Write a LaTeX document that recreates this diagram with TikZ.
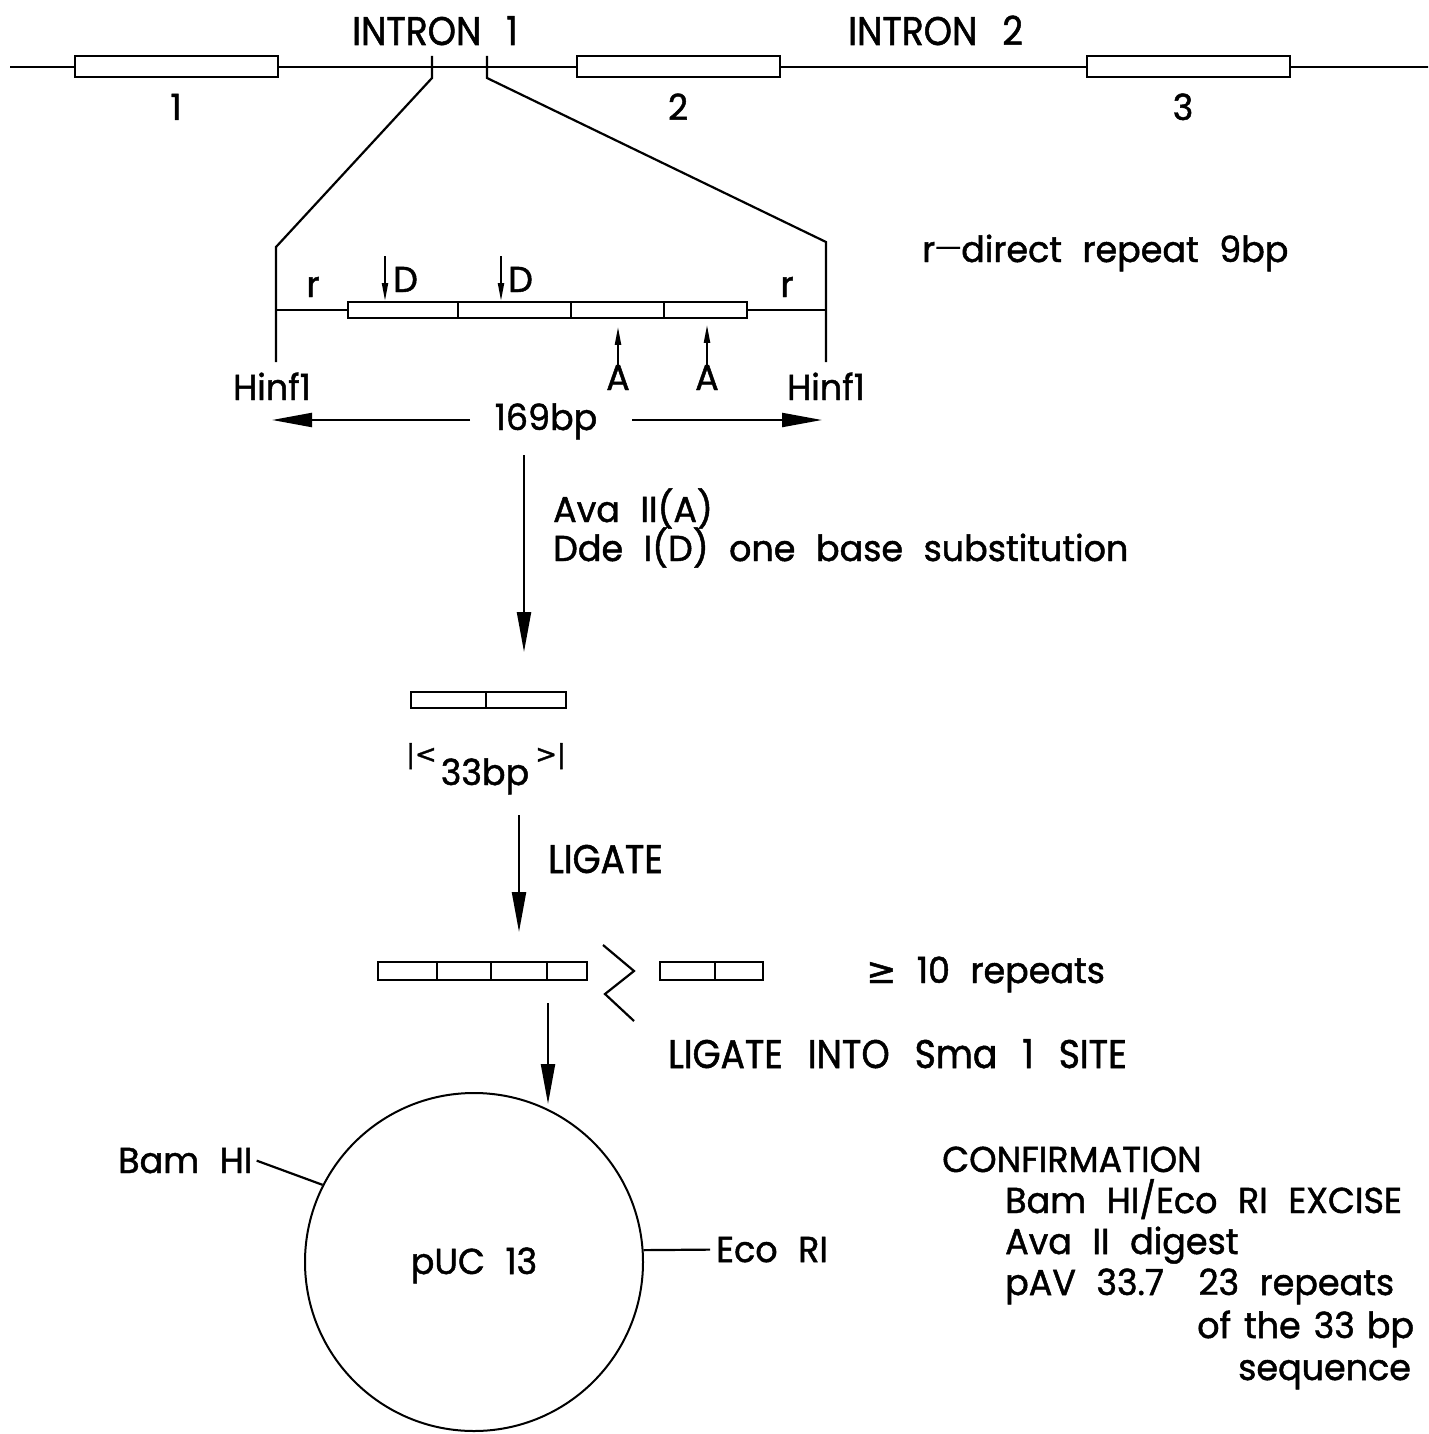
\documentclass[tikz,border=0pt]{standalone}
\usepackage{fontspec}
\setmainfont{Poppins}[FakeStretch=0.97, WordSpace=2.2, FakeBold=1.3]
\newfontfamily\condfont{Poppins}[FakeStretch=0.9, WordSpace=2.6, FakeBold=1.3]
\newfontfamily\symfont{DejaVu Sans}[FakeBold=1.3]
\usetikzlibrary{arrows.meta, positioning}
\tikzstyle{exon}  = [rectangle, draw, line width=2pt, minimum width=203pt,
    minimum height=21pt, inner sep=0pt]
\tikzstyle{seg}   = [rectangle, draw, line width=2pt, minimum height=16pt, inner sep=0pt]
\tikzstyle{lbl}   = [inner sep=0pt, font=\fontsize{36}{41}\selectfont]
\tikzstyle{cond}  = [inner sep=0pt, font=\condfont\fontsize{40}{41}\selectfont]
\tikzstyle{dna}   = [line width=2.2pt]
\tikzstyle{bigarrow}   = [line width=2.2pt, -{Triangle[length=40pt,width=14pt]}]
\tikzstyle{smallarrow} = [line width=2pt, -{Triangle[length=18pt,width=6pt]}]

\begin{document}
\begin{tikzpicture}[x=1pt, y=-1pt]
    \useasboundingbox (0,0) rectangle (1428,1434);
    \clip (0,0) rectangle (1428,1434);

    % gene with three exons
    \coordinate (gl) at (10,67);
    \coordinate (gr) at (1430,67);
    \node (ex1) [exon] at (176.5,67) {};
    \node (ex2) [exon] at (678,67)   {};
    \node (ex3) [exon] at (1188,67)  {};
    \draw [dna] (gl) -- (ex1) -- (ex2) -- (ex3) -- (gr);
    \node (n1) [lbl, anchor=base] at (176,120)  {1};
    \node (n2) [lbl, anchor=base] at (678,120)  {2};
    \node (n3) [lbl, anchor=base] at (1183,120) {3};
    \node (in1) [cond, anchor=base west] at (352,45) {INTRON 1};
    \node (in2) [cond, anchor=base west] at (848,45) {INTRON 2};

    % cut points in intron 1
    \coordinate (t1a) at (432,56);  \coordinate (t1b) at (432,78);
    \coordinate (t2a) at (487,56);  \coordinate (t2b) at (487,78);
    \coordinate (kl) at (276,247);  \coordinate (fl) at (276,362);
    \coordinate (kr) at (826,242);  \coordinate (fr) at (826,362);
    \draw [dna] (t1a) -- (t1b) -- (kl) -- (fl);
    \draw [dna] (t2a) -- (t2b) -- (kr) -- (fr);

    % 169bp fragment
    \node (s1) [seg, minimum width=110pt] at (403,310)   {};
    \node (s2) [seg, minimum width=113pt] at (514.5,310) {};
    \node (s3) [seg, minimum width=93pt]  at (617.5,310) {};
    \node (s4) [seg, minimum width=83pt]  at (705.5,310) {};
    \draw [dna] (fl |- s1) -- (s1.west);
    \draw [dna] (s4.east) -- (fr |- s4);
    \node (rl) [lbl, anchor=base] at (313,297) {r};
    \node (rr) [lbl, anchor=base] at (787,297) {r};
    \node (rtxt) [lbl, anchor=base west] at (922,262)
        {r\raisebox{7pt}{\symfont\fontsize{26}{30}\selectfont —}direct repeat 9bp};

    % Dde I and Ava II sites
    \coordinate (d1) at (385,256);  \coordinate (d2) at (501,256);
    \draw [smallarrow] (d1) -- (d1 |- s1.north);
    \draw [smallarrow] (d2) -- (d2 |- s2.north);
    \node (dl1) [lbl, anchor=base west] at (393,292) {D};
    \node (dl2) [lbl, anchor=base west] at (508,292) {D};
    \node (al1) [lbl, anchor=base] at (618,390) {A};
    \node (al2) [lbl, anchor=base] at (707,390) {A};
    \draw [smallarrow] (al1.north) -- ++(0,-38);
    \draw [smallarrow] (al2.north) -- ++(0,-40);
    \node (hl) [lbl, anchor=base] at (272,400) {Hinf1};
    \node (hr) [lbl, anchor=base] at (826,400) {Hinf1};

    % length of the fragment
    \node (bp169) [lbl, anchor=base] at (546,430) {169bp};
    \coordinate (el) at (272,420);
    \coordinate (er) at (822,420);
    \draw [bigarrow] (470,420) -- (el);
    \draw [bigarrow] (632,420) -- (er);

    % digest
    \coordinate (cut0) at (524,455);
    \coordinate (cut1) at (524,652);
    \draw [bigarrow] (cut0) -- (cut1);
    \node (ava) [lbl, anchor=base west] at (553,522) {Ava II(A)};
    \node (dde) [lbl, anchor=base west] at (553,561) {Dde I(D) one base substitution};

    % 33bp unit
    \node (c1) [seg, minimum width=75pt] at (448.5,700) {};
    \node (c2) [seg, minimum width=80pt] at (526,700)   {};
    \node (bl) [lbl, anchor=base west, font=\symfont\fontsize{26}{30}\selectfont] at (406,763) {|<};
    \node (br) [lbl, anchor=base east, font=\symfont\fontsize{26}{30}\selectfont] at (566,763) {>|};
    \node (bp33) [lbl, anchor=base] at (485,785) {33bp};

    % ligation
    \coordinate (lig0) at (519,815);
    \coordinate (lig1) at (519,932);
    \draw [bigarrow] (lig0) -- (lig1);
    \node (lig) [cond, anchor=base west] at (548,873) {LIGATE};

    % multimers
    \node (r1) [seg, minimum width=59pt, minimum height=18pt] at (407.5,971) {};
    \node (r2) [seg, minimum width=54pt, minimum height=18pt] at (464,971)   {};
    \node (r3) [seg, minimum width=56pt, minimum height=18pt] at (519,971)   {};
    \node (r4) [seg, minimum width=40pt, minimum height=18pt] at (567,971)   {};
    \coordinate (z0) at (603,945);  \coordinate (z1) at (634,971);
    \coordinate (z2) at (605,994);  \coordinate (z3) at (634,1021);
    \draw [dna] (z0) -- (z1) -- (z2) -- (z3);
    \node (m1) [seg, minimum width=55pt, minimum height=18pt] at (687.5,971) {};
    \node (m2) [seg, minimum width=48pt, minimum height=18pt] at (739,971)   {};
    \node (ge) [lbl, anchor=base west] at (866,983) {{\symfont ≥} 10 repeats};

    % cloning
    \node (puc) [circle, draw, line width=2pt, minimum size=338pt, inner sep=0pt]
        at (474,1262) {};
    \node (puclbl) [lbl, anchor=base] at (474,1274) {pUC 13};
    \coordinate (cl0) at (548,1003);
    \coordinate (cl1) at (548,1104);
    \draw [bigarrow] (cl0) -- (cl1);
    \node (sma) [cond, anchor=base west] at (668,1068) {LIGATE INTO Sma 1 SITE};
    \node (bam) [lbl, anchor=base west] at (118,1173) {Bam HI};
    \node (eco) [lbl, anchor=base west] at (716,1262) {Eco RI};
    \draw [dna] ([xshift=4pt]bam.east) -- (puc.153);
    \draw [dna] (puc.4) -- ([xshift=-6pt]eco.west);

    % confirmation notes
    \node (conf) [lbl, anchor=base west] at (942,1172)  {CONFIRMATION};
    \node (cf1)  [lbl, anchor=base west] at (1005,1213) {Bam HI/Eco RI EXCISE};
    \node (cf2)  [lbl, anchor=base west] at (1005,1254) {Ava II digest};
    \node (cf3)  [lbl, anchor=base west] at (1005,1295) {pAV 33.7\hspace{14pt} 23 repeats};
    \node (cf4)  [lbl, anchor=base west] at (1197,1338)
        {of\hspace{13pt}the\hspace{13pt}33\hspace{12pt}bp};
    \node (cf5)  [lbl, anchor=base west] at (1238,1380) {sequence};
\end{tikzpicture}
\end{document}
